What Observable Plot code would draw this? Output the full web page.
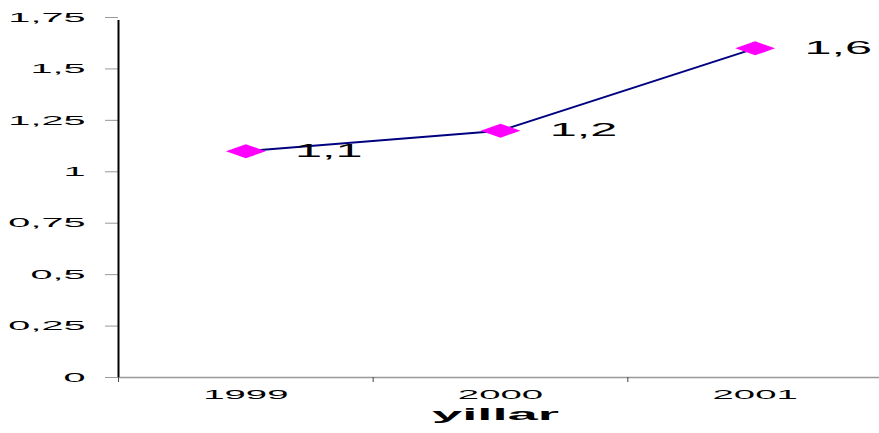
<!DOCTYPE html>
<html>
<head>
<meta charset="utf-8">
<script src="https://cdn.jsdelivr.net/npm/d3@7"></script>
<script src="https://cdn.jsdelivr.net/npm/@observablehq/plot@0.6"></script>
<style>
  html, body { margin: 0; padding: 0; background: #fff; }
  svg { display: block; font-family: "Liberation Sans", Arial, sans-serif; }
</style>
</head>
<body>
<div id="chart"></div>
<script>
const years = [1999, 2000, 2001];
const values = [1.1, 1.2, 1.6];
const valueLabels = ["1,1", "1,2", "1,6"];
const yTicks = [0, 0.25, 0.5, 0.75, 1, 1.25, 1.5, 1.75];
const yTickLabels = ["0", "0,25", "0,5", "0,75", "1", "1,25", "1,5", "1,75"];
const categoryBounds = [1998.5, 1999.5, 2000.5, 2001.5];
const xTitle = "yillar";

const data = years.map((yr, i) => ({year: yr, value: values[i], label: valueLabels[i]}));

const wideDiamond = {
  draw(context, size) {
    const r = Math.sqrt(size / Math.PI);
    const w = r * 2.85;
    context.moveTo(-w, 0);
    context.lineTo(0, -r);
    context.lineTo(w, 0);
    context.lineTo(0, r);
    context.closePath();
  }
};

const chart = Plot.plot({
  width: 879,
  height: 433,
  marginLeft: 118,
  marginRight: -3,
  marginTop: 17,
  marginBottom: 56,
  style: {background: "#fff", color: "black"},
  x: {domain: [categoryBounds[0], categoryBounds[categoryBounds.length - 1]], axis: null, label: null},
  y: {domain: [0, 1.75], axis: null, label: null},
  marks: [
    Plot.ruleY([0], {stroke: "#999", strokeWidth: 1.5}),
    Plot.axisY(yTicks, {label: null, tickSize: 13, tickPadding: 20, tickFormat: (d) => yTickLabels[yTicks.indexOf(d)], stroke: "#999", fill: "black", fontSize: 13, className: "yax"}),
    Plot.ruleX([categoryBounds[0]], {y1: 0, y2: 1.75, stroke: "black", strokeWidth: 2, insetBottom: -3}),
    Plot.axisX(categoryBounds, {label: null, tickSize: 5, tickFormat: () => "", stroke: "#444"}),
    Plot.axisX(years, {label: null, tickSize: 0, tickPadding: 12, tickFormat: d => String(d), fill: "black", fontSize: 13, className: "xax"}),
    Plot.line(data, {x: "year", y: "value", stroke: "#000080", strokeWidth: 2}),
    Plot.dot(data, {x: "year", y: "value", r: 7, symbol: wideDiamond, fill: "#ff00ff", stroke: "none"}),
    Plot.text(data, {x: "year", y: "value", text: "label", dx: 83, dy: 0, textAnchor: "middle", fontSize: 18, fill: "black", className: "vlab"}),
    Plot.text([xTitle], {text: d => d, frameAnchor: "bottom", dy: 42, dx: -5, fontSize: 17, fontWeight: "bold", fill: "black", className: "ttl"})
  ]
});

function stretch(sel, s) {
  chart.querySelectorAll(sel).forEach(el => {
    const t = el.getAttribute("transform") || "";
    el.setAttribute("transform", (t + ` scale(${s},1)`).trim());
    if (el.hasAttribute("x")) el.setAttribute("x", parseFloat(el.getAttribute("x")) / s);
  });
}
stretch(".yax text", 3.05);
stretch(".xax text", 2.95);
stretch(".vlab text", 2.7);
stretch(".ttl text", 3.2);

document.getElementById("chart").appendChild(chart);
</script>
</body>
</html>
